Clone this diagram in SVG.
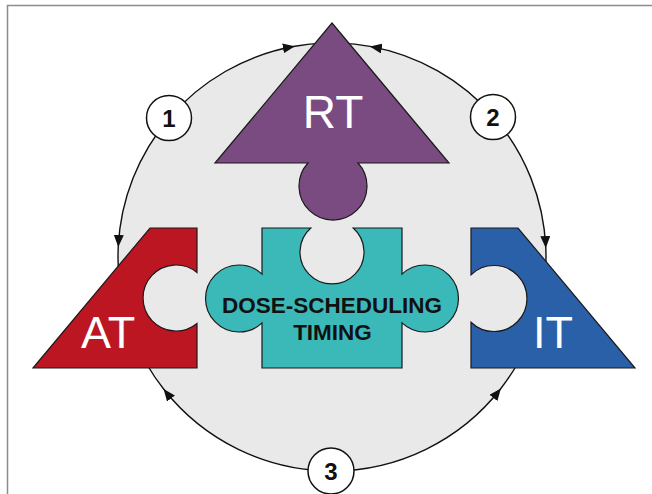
<svg xmlns="http://www.w3.org/2000/svg" width="652" height="494" viewBox="0 0 652 494">
<defs>
<style>
.shape{stroke:#1a1a1a;stroke-width:1.2;stroke-linejoin:miter}
.big{font-family:"Liberation Sans",Arial,sans-serif;fill:#ffffff;font-size:46px}
.lbl{font-family:"Liberation Sans",Arial,sans-serif;font-weight:bold;fill:#111111;text-anchor:middle}
.arc{fill:none;stroke:#111111;stroke-width:1.4}
.num{fill:#ffffff;stroke:#111111;stroke-width:1.5}
</style>
<marker id="ah" viewBox="0 -5 12 10" refX="12" refY="0" markerWidth="12" markerHeight="10" markerUnits="userSpaceOnUse" orient="auto">
<path d="M0,-5 L12,0 L0,5 Z" fill="#111111"/>
</marker>
</defs>
<rect x="0" y="0" width="652" height="494" fill="#ffffff"/>
<rect x="7.5" y="5.5" width="700" height="560" fill="none" stroke="#8c8c8c" stroke-width="1.5"/>
<circle id="cycle" cx="332" cy="257" r="214" fill="#e9e9e9"/>
<g id="connectors">
<path class="arc" marker-mid="url(#ah)" d="M169.1,118.2 A214,214 0 0,1 294.84,46.25 A214,214 0 0,1 324.53,43.13"/>
<path class="arc" marker-mid="url(#ah)" d="M169.1,118.2 A214,214 0 0,0 118.24,246.92 A214,214 0 0,0 118.82,275.65"/>
<path class="arc" marker-mid="url(#ah)" d="M493.51,116.6 A214,214 0 0,0 369.9,46.38 A214,214 0 0,0 339.47,43.13"/>
<path class="arc" marker-mid="url(#ah)" d="M493.51,116.6 A214,214 0 0,1 545.81,248.04 A214,214 0 0,1 545.18,275.65"/>
<path class="arc" marker-mid="url(#ah)" d="M332,471 A214,214 0 0,1 163.59,389.05 A214,214 0 0,1 146.67,364"/>
<path class="arc" marker-mid="url(#ah)" d="M332,471 A214,214 0 0,0 500.86,388.47 A214,214 0 0,0 517.33,364"/>
</g>
<g id="RT">
<path class="shape" fill="#7a4b80" d="M332,23 L449,163 L358,163 A34,34 0 1,1 308,163 L215,163 Z"/>
<text class="big" x="333" y="128" text-anchor="middle">RT</text>
</g>
<g id="AT">
<path class="shape" fill="#bb1622" d="M150,228 L197,228 L197,272.5 A33,33 0 1,0 197,323.5 L197,368 L33,368 Z"/>
<text class="big" x="81" y="348" style="font-size:45px">AT</text>
</g>
<g id="IT">
<path class="shape" fill="#2a60a8" d="M471,228 L518,228 L635,368 L471,368 L471,322.2 A33,33 0 1,0 471,274.8 Z"/>
<text class="big" x="533" y="348" style="font-size:45px">IT</text>
</g>
<g id="DOSE">
<path class="shape" fill="#3bb9b9" d="M262,228 L310.8,228 A32,32 0 1,0 353.2,228 L402,228 L402,274.1 A33.5,33.5 0 1,1 402,322.9 L402,368 L262,368 L262,322.9 A33.5,33.5 0 1,1 262,274.1 Z"/>
<text class="lbl" x="332" y="313" font-size="22.5">DOSE-SCHEDULING</text>
<text class="lbl" x="332.5" y="340" font-size="22.5">TIMING</text>
</g>
<g id="n1">
<circle class="num" cx="169" cy="118" r="22.5"/>
<text class="lbl" x="169" y="126.5" font-size="24">1</text>
</g>
<g id="n2">
<circle class="num" cx="493" cy="117" r="22.5"/>
<text class="lbl" x="493" y="125.5" font-size="24">2</text>
</g>
<g id="n3">
<circle class="num" cx="331" cy="471" r="23"/>
<text class="lbl" x="331" y="480" font-size="24">3</text>
</g>
</svg>
